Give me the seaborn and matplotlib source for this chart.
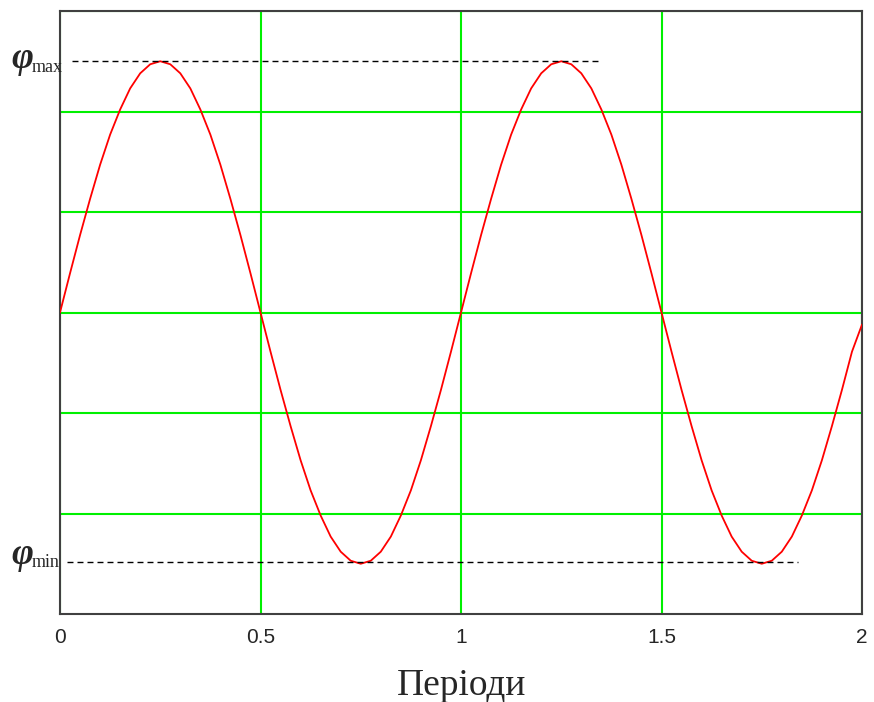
import numpy as np
import pandas as pd
import matplotlib.pyplot as plt
import seaborn as sns

# values every 0.025 period
periods = np.linspace(0, 2, 81)
phi = [0.0, 0.39, 0.77, 1.13, 1.47, 1.77, 2.02, 2.23, 2.38, 2.47,
       2.5, 2.47, 2.38, 2.23, 2.02, 1.77, 1.47, 1.13, 0.77, 0.39,
       0.0, -0.39, -0.77, -1.13, -1.47, -1.77, -2.02, -2.23, -2.38, -2.47,
       -2.5, -2.47, -2.38, -2.23, -2.02, -1.77, -1.47, -1.13, -0.77, -0.39,
       0.0, 0.39, 0.77, 1.13, 1.47, 1.77, 2.02, 2.23, 2.38, 2.47,
       2.5, 2.47, 2.38, 2.23, 2.02, 1.77, 1.47, 1.13, 0.77, 0.39,
       0.0, -0.39, -0.77, -1.13, -1.47, -1.77, -2.02, -2.23, -2.38, -2.47,
       -2.5, -2.47, -2.38, -2.23, -2.02, -1.77, -1.47, -1.13, -0.77, -0.39,
       -0.12]
phi_max = 2.5
phi_min = -2.48

x_ticks = [0, 0.5, 1, 1.5, 2]
x_tick_labels = ["0", "0.5", "1", "1.5", "2"]
x_label = "Періоди"

df = pd.DataFrame({"t": periods, "phi": phi})

sns.set_style("white")
plt.rcParams['font.family'] = ['Liberation Sans', 'DejaVu Sans']

fig = plt.figure(figsize=(8.74, 7.02), dpi=100)
ax = fig.add_axes([60 / 874, 88 / 702, 802 / 874, 603 / 702])

sns.lineplot(data=df, x="t", y="phi", ax=ax, color="#ff0000", linewidth=1.3, zorder=3)

# dashed level lines for max / min
ax.hlines(phi_max, 0.03, 1.342, colors="black", linewidth=1.0,
          linestyles=(0, (4.3, 2.9)), zorder=4)
ax.hlines(phi_min, 0.017, 1.84, colors="black", linewidth=1.0,
          linestyles=(0, (4.3, 2.9)), zorder=4)

ax.set_xlim(0, 2)
ax.set_ylim(-3, 3)
ax.set_xticks(x_ticks)
ax.set_xticklabels(x_tick_labels, fontsize=15)
ax.set_yticks([-2, -1, 0, 1, 2, 3])
ax.set_yticklabels([])
ax.tick_params(length=0, pad=10)
ax.set_xlabel("")
ax.set_ylabel("")

ax.grid(True, color="#00f000", linewidth=1.5)
for side in ["left", "right", "top", "bottom"]:
    ax.spines[side].set_visible(True)
    ax.spines[side].set_color("#404040")
    ax.spines[side].set_linewidth(1.5)

# phi labels on the left
fig.text(11 / 874, 1 - 59 / 702, "φ", fontsize=27, family="Liberation Serif",
         style="italic", weight="bold", ha="left", va="center")
fig.text(32 / 874, 1 - 72 / 702, "max", fontsize=13, family="Liberation Serif",
         ha="left", va="baseline")
fig.text(11 / 874, 1 - 555 / 702, "φ", fontsize=27, family="Liberation Serif",
         style="italic", weight="bold", ha="left", va="center")
fig.text(32 / 874, 1 - 567 / 702, "min", fontsize=13, family="Liberation Serif",
         ha="left", va="baseline")

fig.text(462 / 874, 1 - 695 / 702, x_label, fontsize=27, family="Liberation Serif",
         ha="center", va="baseline")

plt.savefig("out.png", dpi=100)
